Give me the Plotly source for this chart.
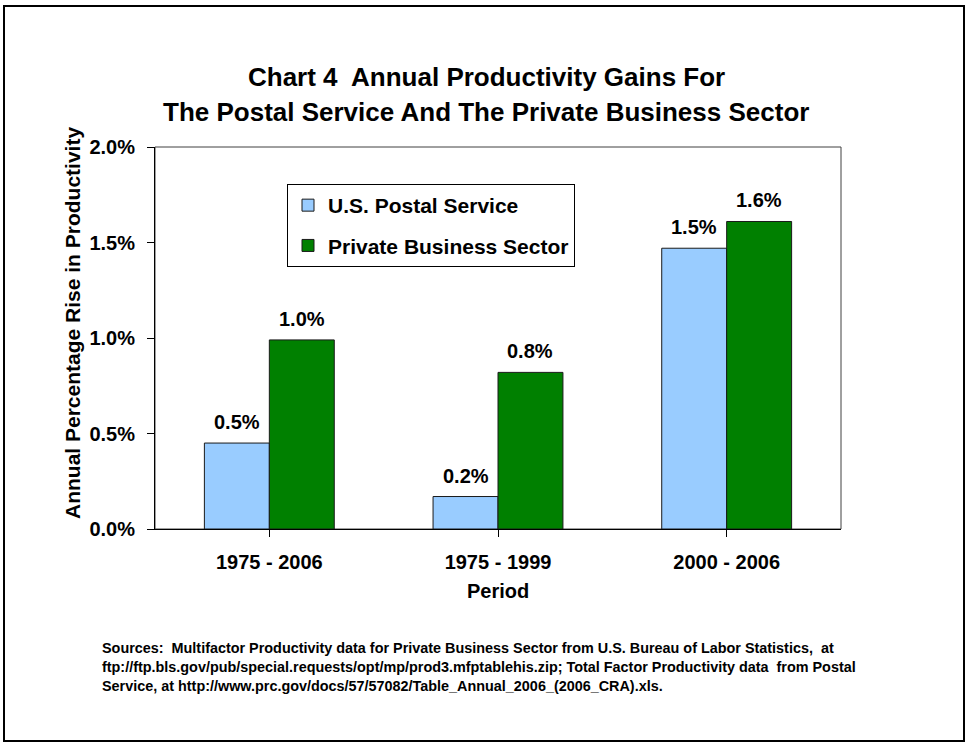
import plotly.graph_objects as go

# ---- data ----
periods = ["1975 - 2006", "1975 - 1999", "2000 - 2006"]
usps = [0.45, 0.17, 1.47]
private = [0.99, 0.82, 1.61]
series_names = ["U.S. Postal Service", "Private Business Sector"]
y_ticks = [0.0, 0.5, 1.0, 1.5, 2.0]
y_ticklabels = ["0.0%", "0.5%", "1.0%", "1.5%", "2.0%"]
title_lines = ["Chart 4  Annual Productivity Gains For",
               "The Postal Service And The Private Business Sector"]
y_title = "Annual Percentage Rise in Productivity"
x_title = "Period"
source_lines = [
    "Sources:  Multifactor Productivity data for Private Business Sector from U.S. Bureau of Labor Statistics,  at",
    "ftp://ftp.bls.gov/pub/special.requests/opt/mp/prod3.mfptablehis.zip; Total Factor Productivity data  from Postal",
    "Service, at http://www.prc.gov/docs/57/57082/Table_Annual_2006_(2006_CRA).xls.",
]

# ---- layout geometry ----
W, H = 969, 745
L, R, T, B = 155, 841, 147, 529
FONT = "Arial, 'Liberation Sans', sans-serif"


def px_x(px):
    return (px - L) / (R - L)


def px_y(py):
    return (B - py) / (B - T)


bar_w = 0.284
fig = go.Figure()
fig.add_trace(go.Bar(
    x=list(range(len(periods))), y=usps, name=series_names[0],
    width=bar_w, offset=-bar_w,
    marker=dict(color="#99CCFF", line=dict(color="#1a1a1a", width=1)),
    legendgroup="a",
))
fig.add_trace(go.Bar(
    x=list(range(len(periods))), y=private, name=series_names[1],
    width=bar_w, offset=0,
    marker=dict(color="#008000", line=dict(color="#1a1a1a", width=1)),
    legendgroup="b",
))

annotations = []
for i, (a, b) in enumerate(zip(usps, private)):
    for xv, v in ((i - bar_w / 2, a), (i + bar_w / 2, b)):
        annotations.append(dict(
            x=xv, y=v, xref="x", yref="y", text=f"{v:.1f}%", showarrow=False,
            yanchor="bottom", yshift=8,
            font=dict(family=FONT, size=20, color="black", weight="bold"),
        ))

# titles
for py, line in zip([77, 112], title_lines):
    annotations.append(dict(
        x=px_x(486), y=px_y(py), xref="paper", yref="paper", text=line,
        showarrow=False, xanchor="center", yanchor="middle",
        font=dict(family=FONT, size=26, color="black", weight="bold"),
    ))
annotations.append(dict(
    x=px_x(72), y=px_y(323), xref="paper", yref="paper", text=y_title,
    textangle=-90, showarrow=False, xanchor="center", yanchor="middle",
    font=dict(family=FONT, size=21, color="black", weight="bold"),
))
annotations.append(dict(
    x=px_x(498), y=px_y(591), xref="paper", yref="paper", text=x_title,
    showarrow=False, xanchor="center", yanchor="middle",
    font=dict(family=FONT, size=20, color="black", weight="bold"),
))
for py, line in zip([648, 667, 686], source_lines):
    annotations.append(dict(
        x=px_x(100), y=px_y(py), xref="paper", yref="paper", text=line,
        showarrow=False, xanchor="left", yanchor="middle",
        font=dict(family=FONT, size=14.4, color="black", weight="bold"),
    ))

shapes = [
    # outer frame
    dict(type="rect", xref="paper", yref="paper",
         x0=px_x(4), x1=px_x(964), y0=px_y(741), y1=px_y(6),
         line=dict(color="black", width=2), layer="below"),
    # plot area border
    dict(type="rect", xref="paper", yref="paper", x0=0, x1=1, y0=0, y1=1,
         line=dict(color="#404040", width=1), layer="below"),
]

fig.update_layout(
    width=W, height=H, autosize=False,
    margin=dict(l=L, r=W - R, t=T, b=H - B, pad=0),
    paper_bgcolor="white", plot_bgcolor="white",
    font=dict(family=FONT, color="black", weight="bold"),
    barmode="group",
    showlegend=True,
    legend=dict(
        x=px_x(287), y=px_y(184), xanchor="left", yanchor="top",
        bgcolor="white", bordercolor="black", borderwidth=1,
        font=dict(family=FONT, size=21, color="black", weight="bold"),
        traceorder="grouped", tracegroupgap=10,
    ),
    xaxis=dict(
        range=[-0.5, 2.5], tickmode="array", tickvals=list(range(len(periods))),
        ticktext=periods, tickson="boundaries", ticks="outside", ticklen=7,
        tickcolor="black", showline=True, linecolor="black", linewidth=1,
        showgrid=False, zeroline=False, ticklabelstandoff=8,
        tickfont=dict(family=FONT, size=20, color="black", weight="bold"),
    ),
    yaxis=dict(
        range=[0, 2], tickmode="array", tickvals=y_ticks, ticktext=y_ticklabels,
        ticks="outside", ticklen=7, tickcolor="black", showline=True,
        linecolor="black", linewidth=1, showgrid=False, zeroline=False,
        ticklabelstandoff=8,
        tickfont=dict(family=FONT, size=20, color="black", weight="bold"),
    ),
    annotations=annotations,
    shapes=shapes,
)

fig.write_html("out.html")
